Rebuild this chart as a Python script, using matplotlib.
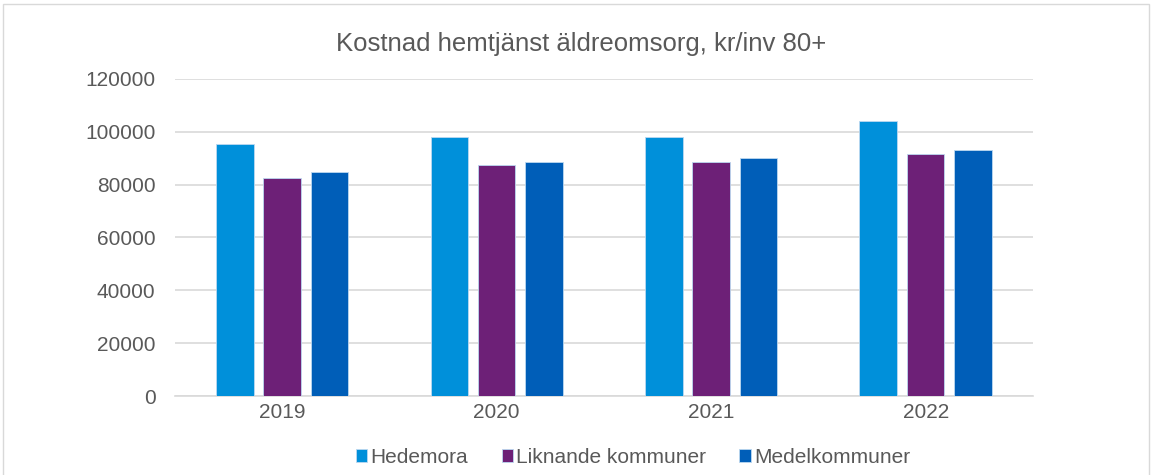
import numpy as np
import matplotlib.pyplot as plt
from matplotlib.patches import Rectangle

plt.rcParams['font.family'] = ['Liberation Sans', 'DejaVu Sans']

years = ['2019', '2020', '2021', '2022']
hedemora = [95300, 97900, 97900, 104150]
liknande = [82500, 87300, 88550, 91450]
medel = [84750, 88450, 89950, 92950]

series = [('Hedemora', hedemora, '#0090da'),
          ('Liknande kommuner', liknande, '#6d2077'),
          ('Medelkommuner', medel, '#005eb8')]

fig = plt.figure(figsize=(11.53, 4.75), dpi=100)
ax = fig.add_axes([0.1518, 0.1663, 0.744, 0.6674])

x = np.arange(len(years))
step = 0.221
width = 0.175
for i, (name, vals, col) in enumerate(series):
    ax.bar(x + (i - 1) * step, vals, width, color=col, label=name,
           edgecolor='#bcd8f0', linewidth=0.6, zorder=3)

ax.set_xlim(-0.5, 3.5)
ax.set_ylim(0, 120000)
ax.set_yticks(np.arange(0, 120001, 20000))
ax.set_xticks(x)
ax.set_xticklabels(years)
ax.grid(axis='y', color='#d9d9d9', linewidth=1.2, zorder=0)
for s in ['top', 'right', 'left']:
    ax.spines[s].set_visible(False)
ax.spines['bottom'].set_color('#d9d9d9')
ax.spines['bottom'].set_linewidth(1.2)
ax.tick_params(length=0, labelsize=15, colors='#595959')
ax.tick_params(axis='y', pad=14)
ax.tick_params(axis='x', pad=5)

fig.text(0.504, 0.907, 'Kostnad hemtjänst äldreomsorg, kr/inv 80+',
         ha='center', va='center', fontsize=18.5, color='#595959')

ax.legend(loc='upper center', bbox_to_anchor=(0.534, -0.105), ncol=3,
          frameon=False, fontsize=15, labelcolor='#595959',
          handlelength=0.55, handleheight=0.55, handletextpad=0.15,
          columnspacing=1.6)

fig.patches.append(Rectangle((3 / 1153, -0.01), 1146 / 1153, 1 - 4 / 475 + 0.01,
                             transform=fig.transFigure, fill=False,
                             edgecolor='#d9d9d9', linewidth=1))

fig.savefig('out.png', dpi=100)
